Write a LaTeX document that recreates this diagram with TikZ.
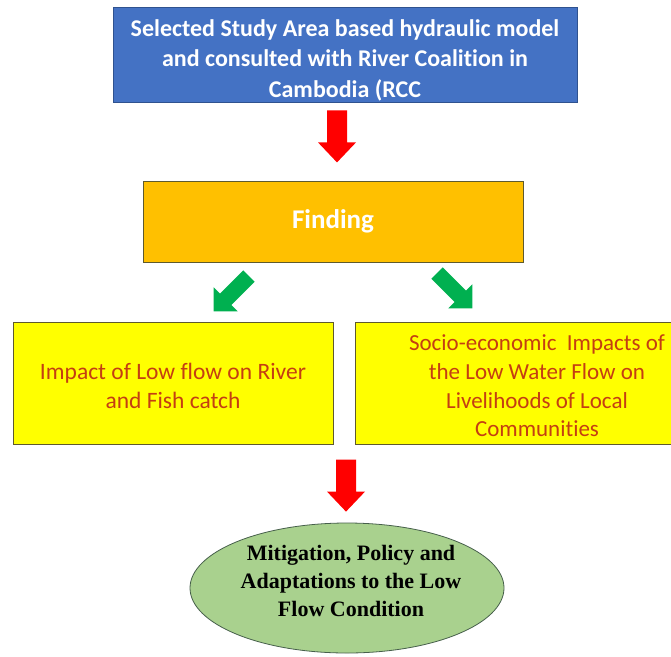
\documentclass[tikz,border=0pt]{standalone}
\usepackage{fontspec}
\setmainfont[Ligatures={NoCommon}]{Carlito}
\newfontfamily\serifbold{Liberation Serif}
\usetikzlibrary{calc,shapes.geometric}
\definecolor{boxblue}{RGB}{68,114,196}
\definecolor{boxblueline}{RGB}{47,82,143}
\definecolor{boxorange}{RGB}{255,192,0}
\definecolor{boxyellow}{RGB}{255,255,0}
\definecolor{oliveline}{RGB}{95,90,45}
\definecolor{textred}{RGB}{196,62,18}
\definecolor{arrred}{RGB}{255,0,0}
\definecolor{arrgreen}{RGB}{0,176,80}
\definecolor{ellgreen}{RGB}{169,209,142}
\definecolor{ellline}{RGB}{70,95,75}
\tikzset{
  bluebox/.style={draw=boxblueline, line width=0.8pt, fill=boxblue,
    minimum width=464pt, minimum height=95pt, inner sep=0pt},
  bluetext/.style={text=white, align=center, inner sep=0pt,
    font=\fontsize{24}{30.5}\selectfont\bfseries},
  orangebox/.style={draw=oliveline, line width=0.8pt, fill=boxorange, text=white,
    minimum width=380pt, minimum height=81pt, align=center,
    font=\fontsize{27}{30}\selectfont\bfseries, inner sep=0pt},
  yellowbox/.style={draw=oliveline, line width=0.8pt, fill=boxyellow,
    minimum height=122pt, inner sep=0pt},
  yellowtext/.style={text=textred, align=center, inner sep=0pt,
    font=\fontsize{23.5}{28.5}\selectfont},
  greenell/.style={ellipse, draw=ellline, line width=0.8pt, fill=ellgreen,
    minimum width=314pt, minimum height=130pt, inner sep=0pt},
  elltext/.style={align=center, inner sep=0pt,
    font=\fontsize{22}{28}\selectfont\serifbold\bfseries},
  pics/blockarrow/.style n args={5}{code={
    \fill[#5] (-#1,0) -- (#1,0) -- (#1,#3) -- (#2,#3) -- (0,#4)
      -- (-#2,#3) -- (-#1,#3) -- cycle;}}
}
\begin{document}
\begin{tikzpicture}[x=1pt,y=-1pt]
\clip (0,0) rectangle (671,656);
\fill[white] (0,0) rectangle (671,656);

\node[bluebox] (top) at (345,54.5) {};
\node[bluetext] (toptext) at ($(top)+(0,5.5)$)
  {Selected Study Area based hydraulic model\\
   and consulted with River Coalition in\\
   Cambodia (RCC};
\node[orangebox] (find) at (333,221.5) {Finding};
\node[yellowbox, minimum width=320pt] (left) at (173,383) {};
\node[yellowtext] (lefttext) at ($(left)+(0,3)$)
  {Impact of Low flow on River\\ and Fish catch};
\node[yellowbox, minimum width=364pt] (right) at (537,383) {};
\node[yellowtext, font=\fontsize{23}{28.7}\selectfont] (righttext) at ($(right)+(0,3)$)
  {Socio-economic\ \ Impacts of\\ the Low Water Flow on\\
   Livelihoods of Local\\ Communities};
\node[greenell] (ell) at (347,588) {};
\node[elltext] (elltxt) at ($(ell)+(4,-7)$)
  {Mitigation, Policy and\\
   Adaptations to the Low\\ Flow Condition};

% connectors as block arrows
\pic at ($(top.south)+(-8,8)$) {blockarrow={10}{19}{32}{52}{arrred}};
\pic[rotate=-45] at (249,276) {blockarrow={8}{17}{33}{50}{arrgreen}};
\pic[rotate=45] at (437,273) {blockarrow={8}{17}{33}{50}{arrgreen}};
\pic at ($(ell.north)+(-1,-63)$) {blockarrow={10}{19}{32}{52}{arrred}};
\end{tikzpicture}
\end{document}
